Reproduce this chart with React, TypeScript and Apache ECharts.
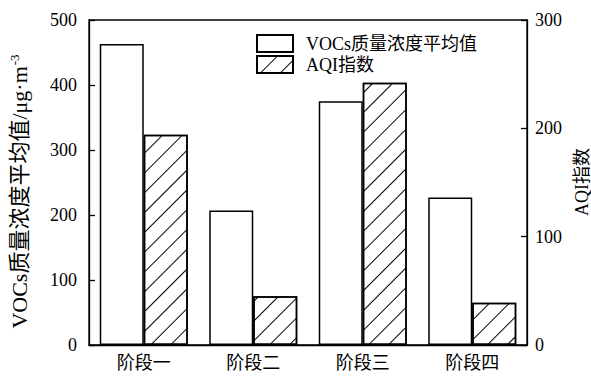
import React, { useEffect, useRef } from "react";
import * as echarts from "echarts";

const categories = ["阶段一", "阶段二", "阶段三", "阶段四"];
const vocsValues = [463, 207, 375, 227];
const aqiValues = [194, 45, 242, 39];
const leftTicks = { min: 0, max: 500, interval: 100 };
const rightTicks = { min: 0, max: 300, interval: 100 };
const seriesNames = ["VOCs质量浓度平均值", "AQI指数"];
const rightAxisName = "AQI指数";

const FONT = "'Liberation Serif', 'Times New Roman', 'Noto Sans CJK SC', serif";

export default function App() {
  const ref = useRef<HTMLDivElement>(null);
  useEffect(() => {
    document.body.style.margin = "0";
    if (!ref.current) return;
    const chart = echarts.init(ref.current, null, { renderer: "svg" });
    const hatch = {
      symbol: "rect",
      symbolSize: 1,
      color: "#000",
      backgroundColor: "#fff",
      dashArrayX: [1, 0],
      dashArrayY: [1, 13],
      rotation: -Math.PI / 4,
    };
    chart.setOption({
      animation: false,
      backgroundColor: "#fff",
      textStyle: { fontFamily: FONT, color: "#000" },
      grid: {
        left: 88,
        right: 64,
        top: 20,
        bottom: 33,
        show: true,
        borderColor: "#000",
        borderWidth: 1.3,
        backgroundColor: "transparent",
      },
      legend: {
        orient: "vertical",
        left: 251,
        top: 29,
        icon: "rect",
        itemWidth: 36,
        itemHeight: 17,
        itemGap: 2,
        data: seriesNames,
        textStyle: {
          fontFamily: FONT,
          fontSize: 18,
          color: "#000",
          padding: [0, 0, 0, 8],
        },
      },
      graphic: [
        {
          type: "text",
          x: 582,
          y: 182,
          rotation: Math.PI / 2,
          style: {
            text: rightAxisName,
            fontFamily: FONT,
            fontSize: 18,
            fill: "#000",
            align: "center",
            verticalAlign: "middle",
          },
        },
      ],
      xAxis: {
        type: "category",
        data: categories,
        axisTick: { show: false },
        axisLine: { lineStyle: { color: "#000", width: 1.3 } },
        axisLabel: { fontFamily: FONT, fontSize: 18, color: "#000", margin: 9 },
      },
      yAxis: [
        {
          type: "value",
          ...leftTicks,
          position: "left",
          name: "VOCs质量浓度平均值/μg·m{sup|-3}",
          nameLocation: "middle",
          nameRotate: 90,
          nameGap: 58,
          nameTextStyle: {
            fontFamily: FONT,
            fontSize: 22,
            color: "#000",
            padding: [0, 18, 0, 0],
            rich: {
              sup: { fontFamily: FONT, fontSize: 13, color: "#000", padding: [0, 0, 10, 1] },
            },
          },
          axisLine: { show: true, lineStyle: { color: "#000", width: 1.3 } },
          axisTick: { show: true, inside: true, length: 6, lineStyle: { color: "#000", width: 1.3 } },
          axisLabel: { fontFamily: FONT, fontSize: 18, color: "#000", margin: 12 },
          splitLine: { show: false },
        },
        {
          type: "value",
          ...rightTicks,
          position: "right",
          axisLine: { show: true, lineStyle: { color: "#000", width: 1.3 } },
          axisTick: { show: true, inside: true, length: 6, lineStyle: { color: "#000", width: 1.3 } },
          axisLabel: { fontFamily: FONT, fontSize: 18, color: "#000", margin: 8 },
          splitLine: { show: false },
        },
      ],
      series: [
        {
          name: seriesNames[0],
          type: "bar",
          data: vocsValues,
          yAxisIndex: 0,
          barWidth: 44,
          barGap: "0%",
          itemStyle: { color: "#fff", borderColor: "#000", borderWidth: 1.5 },
        },
        {
          name: seriesNames[1],
          type: "bar",
          data: aqiValues,
          yAxisIndex: 1,
          barWidth: 44,
          barGap: "0%",
          itemStyle: { color: "#fff", borderColor: "#000", borderWidth: 1.5, decal: hatch },
        },
      ],
    });
    return () => chart.dispose();
  }, []);
  return <div ref={ref} style={{ width: 591, height: 378 }} />;
}
